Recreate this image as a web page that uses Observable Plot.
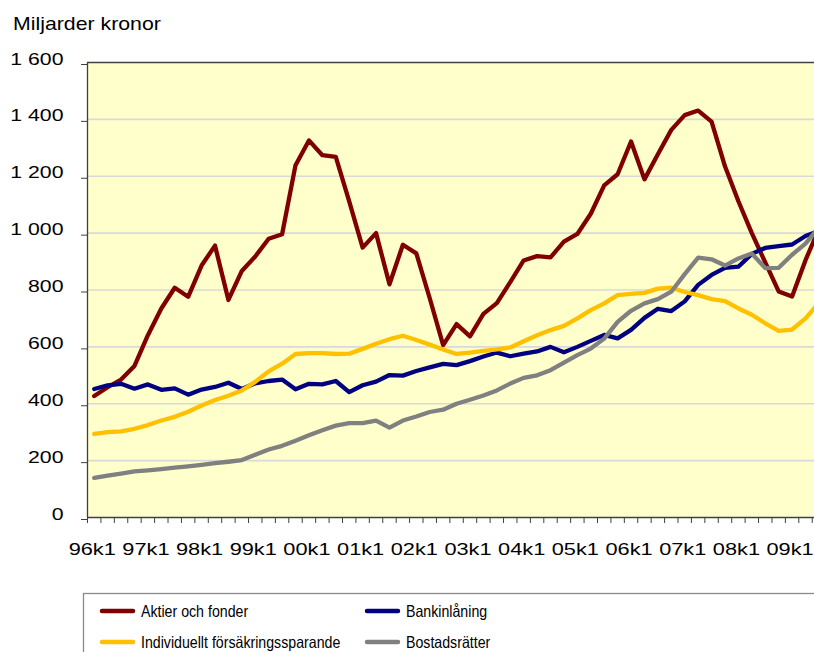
<!DOCTYPE html>
<html><head><meta charset="utf-8">
<script src="https://cdn.jsdelivr.net/npm/d3@7"></script>
<script src="https://cdn.jsdelivr.net/npm/@observablehq/plot@0.6"></script>
<style>
html,body{margin:0;padding:0;width:814px;height:652px;overflow:hidden;background:#fff;font-family:"Liberation Sans",Arial,sans-serif;}
#title{position:absolute;left:13px;top:13.9px;font-size:19px;line-height:19px;transform:scaleX(1.12);transform-origin:0 0;white-space:nowrap;color:#000}
#chart{position:absolute;left:0;top:0}
#legend{position:absolute;left:0;top:0}
</style></head><body>
<div id="title">Miljarder kronor</div>
<div id="chart"></div>
<svg id="legend" width="814" height="652"></svg>
<script>
const quarters = [
  "96k1","96k2","96k3","96k4","97k1","97k2","97k3","97k4","98k1","98k2","98k3","98k4",
  "99k1","99k2","99k3","99k4","00k1","00k2","00k3","00k4","01k1","01k2","01k3","01k4",
  "02k1","02k2","02k3","02k4","03k1","03k2","03k3","03k4","04k1","04k2","04k3","04k4",
  "05k1","05k2","05k3","05k4","06k1","06k2","06k3","06k4","07k1","07k2","07k3","07k4",
  "08k1","08k2","08k3","08k4","09k1","09k2","09k3"
];
const tickLabels = ["96k1","97k1","98k1","99k1","00k1","01k1","02k1","03k1","04k1","05k1","06k1","07k1","08k1","09k1"];
const yTicks = [0,200,400,600,800,1000,1200,1400,1600];

const aktier = [427,458,485,533,641,735,808,776,886,956,
  765,867,918,980,996,1239,1326,1274,1268,1112,
  949,1000,820,959,929,771,606,680,637,716,
  754,828,904,919,915,970,997,1068,1168,1207,
  1322,1189,1277,1363,1415,1431,1392,1235,1112,1000,
  897,795,777,905,1015];
const bankinlaning = [452,465,470,453,468,449,454,432,450,459,
  474,452,472,480,485,451,470,468,480,441,
  465,478,501,499,515,528,540,536,550,566,
  580,567,576,584,600,581,600,621,642,630,
  660,702,734,726,760,818,853,878,882,927,
  948,954,960,990,1008];
const forsakring = [294,300,303,312,325,341,354,372,394,413,
  428,447,477,514,541,575,578,578,575,576,
  593,611,627,639,624,608,591,575,580,586,
  591,598,620,641,659,674,700,729,753,782,
  786,790,805,808,793,782,768,761,735,713,
  683,656,661,700,755];
const bostadsratter = [139,147,154,162,166,170,175,180,185,191,
  196,202,221,239,252,270,289,307,323,332,
  332,341,316,341,355,371,379,400,414,429,
  447,471,491,500,518,545,571,594,629,688,
  727,753,768,794,856,914,908,886,911,928,
  877,878,924,963,1020];

const seriesNames = ["Aktier och fonder","Bankinlåning","Individuellt försäkringssparande","Bostadsrätter"];
const seriesColors = ["#800000","#000080","#ffc000","#808080"];
const seriesValues = [aktier, bankinlaning, forsakring, bostadsratter];

const rows = [];
seriesValues.forEach((vals, s) => vals.forEach((v, i) => rows.push({series: seriesNames[s], q: quarters[i], i, v})));

const fmt = d => d3.format(",")(d).replace(/,/g, " ");
const boundaries = quarters.map((q, i) => i);
const labelPos = tickLabels.map(t => quarters.indexOf(t) + 0.5);

const svg = Plot.plot({
  width: 814, height: 572,
  marginTop: 62, marginBottom: 55, marginLeft: 87, marginRight: 0,
  style: {fontFamily: '"Liberation Sans", Arial, sans-serif', fontSize: "17px", color: "#000", background: "transparent", overflow: "visible"},
  x: {type: "linear", domain: [0, 54.17], axis: null},
  y: {domain: [0, 1600], axis: null},
  color: {domain: seriesNames, range: seriesColors},
  marks: [
    Plot.frame({fill: "#ffffcc", stroke: null}),
    Plot.ruleY(yTicks.filter(d => d > 0 && d < 1600), {stroke: "#d9d9d9", strokeWidth: 1.6}),
    Plot.line(rows, {x: d => d.i + 0.5, y: "v", z: "series", stroke: "series", strokeWidth: 4.3, strokeLinejoin: "round", strokeLinecap: "round", clip: true}),
    Plot.ruleY([1600], {stroke: "#404040", strokeWidth: 1.3}),
    Plot.ruleY([0], {stroke: "#404040", strokeWidth: 1.3}),
    Plot.ruleX([0], {stroke: "#404040", strokeWidth: 1.3}),
    Plot.axisY(yTicks, {anchor: "left", label: null, tickSize: 6, tickPadding: 18, tickFormat: fmt, stroke: "#404040", fill: "#000", dy: 2}),
    Plot.axisX(boundaries, {anchor: "bottom", label: null, tickSize: 6, tickFormat: () => "", stroke: "#404040"}),
    Plot.axisX(labelPos, {anchor: "bottom", label: null, tickSize: 0, tickPadding: 37, tickFormat: d => quarters[Math.floor(d)], fill: "#000"})
  ]
});
document.getElementById("chart").appendChild(svg);

function stretch(root, k, dx) {
  d3.select(root).selectAll("text").each(function() {
    const t = d3.select(this);
    const tr = t.attr("transform") || "";
    const x = (+t.attr("x") || 0) + dx, y = +t.attr("y") || 0;
    t.attr("x", null).attr("y", null).attr("transform", `${tr} translate(${x},${y}) scale(${k},1)`);
  });
}
d3.select(svg).selectAll('g[aria-label="y-axis tick label"]').each(function() { stretch(this, 1.25, 0); });
d3.select(svg).selectAll('g[aria-label="x-axis tick label"]').each(function() { stretch(this, 1.28, -2); });

// legend
const leg = d3.select("#legend");
leg.append("rect").attr("x", 83.5).attr("y", 593.5).attr("width", 760).attr("height", 100)
  .attr("fill", "none").attr("stroke", "#8a8a8a").attr("stroke-width", 1.3);
const colX = [100, 365], rowY = [611, 642];
seriesNames.forEach((name, s) => {
  const cx = colX[s % 2], cy = rowY[Math.floor(s / 2)];
  leg.append("line").attr("x1", cx + 2).attr("x2", cx + 33).attr("y1", cy).attr("y2", cy)
    .attr("stroke", seriesColors[s]).attr("stroke-width", 4.5).attr("stroke-linecap", "round");
  leg.append("text").attr("transform", `translate(${cx + 41},${cy + 5.7}) scale(0.87,1)`)
    .attr("font-family", '"Liberation Sans", Arial, sans-serif').attr("font-size", 16.3).attr("fill", "#000")
    .text(name);
});
</script>
</body></html>
